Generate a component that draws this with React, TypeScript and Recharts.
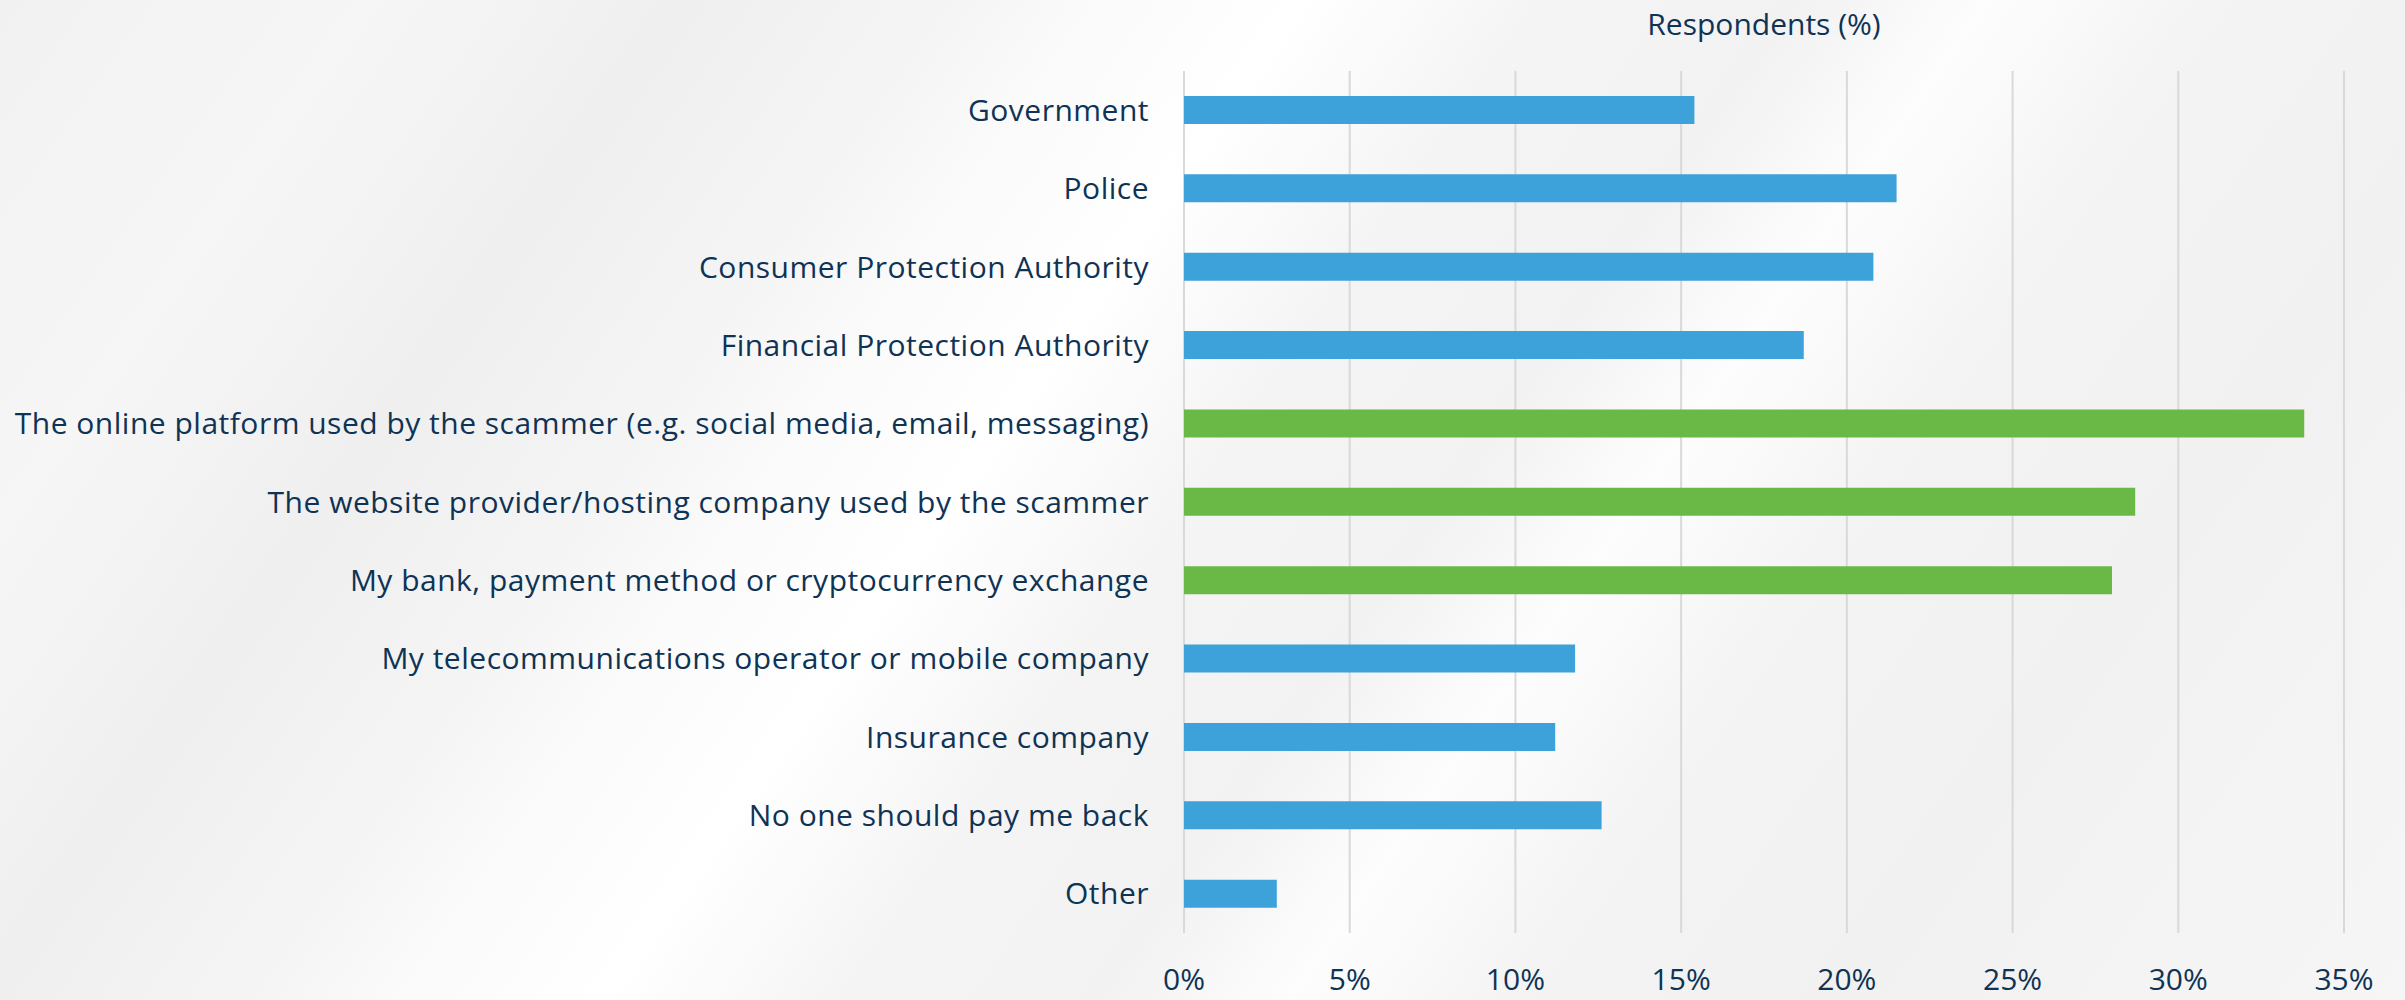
import React from 'react';
import { BarChart, Bar, XAxis, YAxis, CartesianGrid, Cell } from 'recharts';

const categories: string[] = [
  'Government',
  'Police',
  'Consumer Protection Authority',
  'Financial Protection Authority',
  'The online platform used by the scammer (e.g. social media, email, messaging)',
  'The website provider/hosting company used by the scammer',
  'My bank, payment method or cryptocurrency exchange',
  'My telecommunications operator or mobile company',
  'Insurance company',
  'No one should pay me back',
  'Other',
];

const respondentsPct: number[] = [15.4, 21.5, 20.8, 18.7, 33.8, 28.7, 28.0, 11.8, 11.2, 12.6, 2.8];

const highlightedCategories: string[] = [
  'The online platform used by the scammer (e.g. social media, email, messaging)',
  'The website provider/hosting company used by the scammer',
  'My bank, payment method or cryptocurrency exchange',
];

const xTicks: number[] = [0, 5, 10, 15, 20, 25, 30, 35];
const axisTitle = 'Respondents (%)';

const data = categories.map((name, i) => ({ name, value: respondentsPct[i] }));

const BLUE = '#3ea2da';
const GREEN = '#6ab846';
const TEXT = '#0f3355';
const GRID = '#d9d9d9';
const FONT = '"Open Sans", Lato, sans-serif';

export default function App() {
  return (
    <div
      style={{
        position: 'absolute',
        left: 0,
        top: 0,
        width: 2405,
        height: 1000,
        overflow: 'hidden',
        background:
          'linear-gradient(125deg, #f1f1f1 0%, #f6f6f6 12%, #efefef 22%, #f4f4f4 30%, #fbfbfb 36%, #ffffff 42%, #f4f4f4 50%, #f2f2f2 58%, #fdfdfd 64%, #f3f3f3 72%, #f1f1f1 82%, #f6f6f6 100%)',
      }}
    >
      <BarChart
        width={2405}
        height={1000}
        data={data}
        layout="vertical"
        margin={{ top: 0, right: 61, bottom: 0, left: 0 }}
        barSize={28}
      >
        <CartesianGrid horizontal={false} vertical={true} stroke={GRID} strokeWidth={2} />
        <XAxis
          xAxisId="top"
          orientation="top"
          type="number"
          domain={[0, 35]}
          height={71}
          tick={false}
          tickLine={false}
          axisLine={false}
          label={{
            value: axisTitle,
            position: 'insideTop',
            offset: 14,
            fill: TEXT,
            fontSize: 30,
            fontFamily: FONT,
          }}
        />
        <XAxis
          type="number"
          domain={[0, 35]}
          ticks={xTicks}
          interval={0}
          height={67}
          tickFormatter={(v: number) => `${v}%`}
          tickLine={false}
          axisLine={false}
          tickSize={0}
          tickMargin={36}
          tick={{ fill: TEXT, fontSize: 30, fontFamily: FONT }}
        />
        <YAxis
          type="category"
          dataKey="name"
          width={1184}
          interval={0}
          tickLine={false}
          axisLine={false}
          tickSize={0}
          tickMargin={35}
          tick={{ fill: TEXT, fontSize: 30, fontFamily: FONT, letterSpacing: 0.5 }}
        />
        <Bar dataKey="value" isAnimationActive={false}>
          {data.map((d) => (
            <Cell key={d.name} fill={highlightedCategories.includes(d.name) ? GREEN : BLUE} />
          ))}
        </Bar>
      </BarChart>
    </div>
  );
}
